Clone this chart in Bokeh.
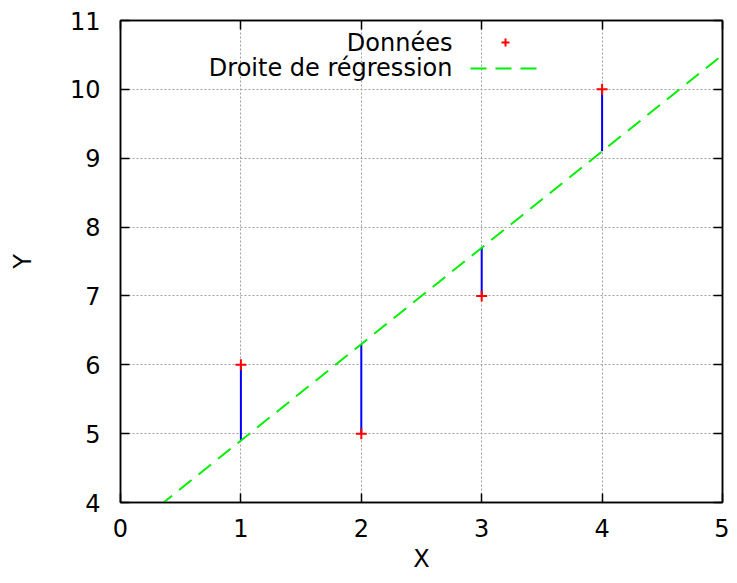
from bokeh.plotting import figure
from bokeh.models import (Range1d, LinearAxis, SingleIntervalTicker, Legend, LegendItem, Label)
from bokeh.embed import file_html
from bokeh.resources import INLINE

# Data
x_data = [1, 2, 3, 4]
y_data = [6, 5, 7, 10]
# Regression line parameters (least squares fit of the data)
slope = 1.4
intercept = 3.5
line_x = [0, 5]
x_ticks_interval = 1
y_ticks_interval = 1
legend_labels = ["Données", "Droite de régression"]

line_y = [intercept + slope * v for v in line_x]
fit_y = [intercept + slope * v for v in x_data]

FONT = "DejaVu Sans"
FS = "24px"

p = figure(width=729, height=575, output_backend="svg", toolbar_location=None,
           x_range=Range1d(0, 5), y_range=Range1d(4, 11),
           min_border_left=120, min_border_right=7, min_border_top=20, min_border_bottom=73,
           x_axis_label="X", y_axis_label="Y")
p.background_fill_color = "white"
p.border_fill_color = "white"
p.outline_line_color = "black"
p.outline_line_width = 1.5

for ax in [p.xaxis[0], p.yaxis[0]]:
    ax.major_label_text_font = FONT
    ax.major_label_text_font_size = FS
    ax.major_label_text_color = "black"
    ax.axis_label_text_font = FONT
    ax.axis_label_text_font_size = FS
    ax.axis_label_text_font_style = "normal"
    ax.axis_label_text_color = "black"
    ax.axis_line_color = "black"
    ax.axis_line_width = 1.5
    ax.major_tick_in = 9
    ax.major_tick_out = 0
    ax.major_tick_line_color = "black"
    ax.major_tick_line_width = 1.5
    ax.minor_tick_line_color = None

p.xaxis[0].ticker = SingleIntervalTicker(interval=x_ticks_interval)
p.yaxis[0].ticker = SingleIntervalTicker(interval=y_ticks_interval)
p.xaxis[0].major_label_standoff = 12
p.yaxis[0].major_label_standoff = 16
p.xaxis[0].axis_label_standoff = 5
p.yaxis[0].axis_label_standoff = 30

# mirror ticks
for loc, interval in [("above", x_ticks_interval), ("right", y_ticks_interval)]:
    ax = LinearAxis(ticker=SingleIntervalTicker(interval=interval))
    ax.major_label_text_font_size = "1px"
    ax.major_label_text_alpha = 0
    ax.major_label_standoff = 0
    ax.major_tick_in = 9
    ax.major_tick_out = 0
    ax.major_tick_line_color = "black"
    ax.major_tick_line_width = 1.5
    ax.minor_tick_line_color = None
    ax.axis_line_color = "black"
    ax.axis_line_width = 1.5
    p.add_layout(ax, loc)

for g in [p.xgrid[0], p.ygrid[0]]:
    g.grid_line_color = "#a0a0a0"
    g.grid_line_dash = "2 2"
    g.grid_line_width = 1

p.segment(x0=x_data, y0=y_data, x1=x_data, y1=fit_y, line_color="#0000ff", line_width=2)
r_line = p.line(line_x, line_y, line_color="#00ee00", line_width=2, line_dash="16 9")
r_pts = p.scatter(x_data, y_data, marker="cross", size=11, line_color="#ff0000", line_width=2)

# glyph-only legend (gnuplot puts the sample to the right of the text)
legend = Legend(items=[LegendItem(label="", renderers=[r_pts]),
                       LegendItem(label="", renderers=[r_line])],
                location=(350, 424), orientation="vertical")
legend.glyph_width = 70
legend.glyph_height = 20
legend.label_text_font_size = "1px"
legend.label_standoff = 0
legend.padding = 0
legend.margin = 0
legend.spacing = 6
legend.border_line_color = None
legend.background_fill_alpha = 0
p.add_layout(legend, "center")

# legend texts, right-aligned to the left of the samples
for txt, yy in zip(legend_labels, [10.68, 10.303]):
    p.add_layout(Label(x=2.757, y=yy, text=txt, text_align="right", text_baseline="middle",
                       text_font=FONT, text_font_size=FS, text_color="black"))

open("out.html", "w").write(file_html(p, INLINE))
